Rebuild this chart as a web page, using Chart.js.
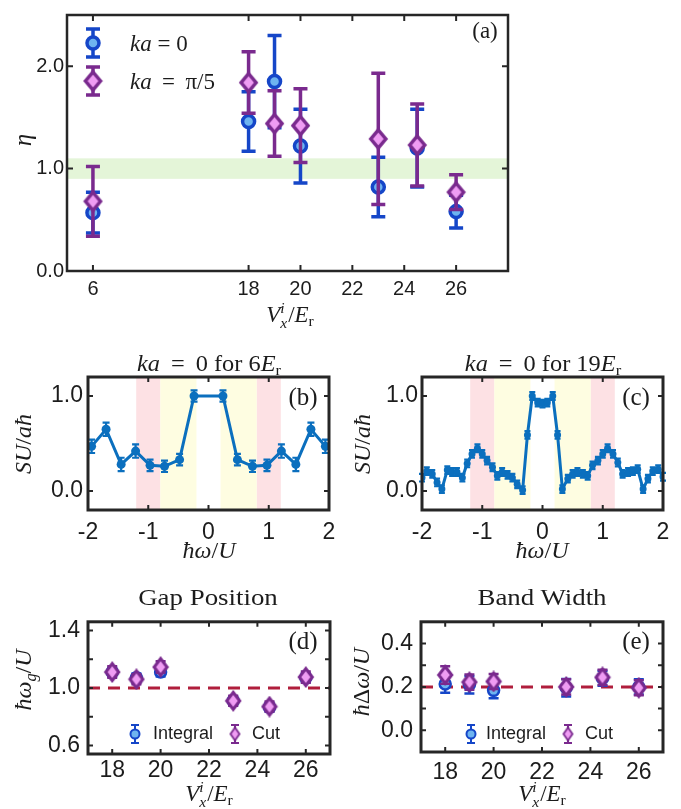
<!DOCTYPE html>
<html>
<head>
<meta charset="utf-8">
<script src="https://cdn.jsdelivr.net/npm/chart.js@4.4.1/dist/chart.umd.min.js"></script>
<style>
html, body { margin: 0; padding: 0; background: #fff; }
#fig { position: relative; width: 681px; height: 809px; overflow: hidden; }
#fig canvas { position: absolute; }
.t { position: absolute; transform: translate(-50%, -50%); font-family: "Liberation Serif", "DejaVu Serif", serif;
     color: #1c1c1c; white-space: nowrap; line-height: 1; z-index: 2; }
.l { transform: translate(0, -50%); }
.r { transform: translate(-50%, -50%) rotate(-90deg); }
.w { transform: translate(-50%, -50%) scaleX(1.12); }
.w2 { transform: translate(-50%, -50%) scaleX(1.06); }
.s { font-family: "Liberation Sans", Arial, sans-serif; }
.sb { font-size: 0.68em; position: relative; top: 0.28em; }
.stk { display: inline-block; font-size: 0.68em; line-height: 0.95; vertical-align: -0.4em; margin-right: 0.06em; }
.stk span { display: block; }
</style>
</head>
<body>
<div id="fig">
  <canvas id="chartA"></canvas>
  <canvas id="chartB"></canvas>
  <canvas id="chartC"></canvas>
  <canvas id="chartD"></canvas>
  <canvas id="chartE"></canvas>

  <!-- panel (a) -->
  <div class="t" style="left:485px;top:30px;font-size:23px">(a)</div>
  <div class="t l" style="left:130px;top:43px;font-size:23px"><i>ka</i> = 0</div>
  <div class="t l" style="left:130px;top:81px;font-size:23px"><i>ka</i>&thinsp; = &thinsp;π/5</div>
  <div class="t r" style="left:22px;top:140px;font-size:25px"><i>η</i></div>
  <div class="t" style="left:290px;top:316px;font-size:23px"><i>V</i><span class="stk"><span><i>i</i></span><span><i>x</i></span></span>/<i>E</i><span class="sb">r</span></div>

  <!-- panels (b), (c) -->
  <div class="t w2" style="left:209px;top:363px;font-size:23px"><i>ka</i>&thinsp; = &thinsp;0 for 6<i>E</i><span class="sb">r</span></div>
  <div class="t w2" style="left:543px;top:363px;font-size:23px"><i>ka</i>&thinsp; = &thinsp;0 for 19<i>E</i><span class="sb">r</span></div>
  <div class="t" style="left:303px;top:396px;font-size:25px">(b)</div>
  <div class="t" style="left:636px;top:396px;font-size:25px">(c)</div>
  <div class="t r" style="left:23px;top:444px;font-size:24px"><i>SU</i>/<i>aħ</i></div>
  <div class="t r" style="left:362px;top:444px;font-size:24px"><i>SU</i>/<i>aħ</i></div>
  <div class="t" style="left:209px;top:550px;font-size:24px"><i>ħω</i>/<i>U</i></div>
  <div class="t" style="left:542px;top:550px;font-size:24px"><i>ħω</i>/<i>U</i></div>

  <!-- panels (d), (e) -->
  <div class="t w" style="left:208px;top:597px;font-size:24px">Gap Position</div>
  <div class="t w" style="left:542px;top:597px;font-size:24px">Band Width</div>
  <div class="t" style="left:303px;top:640px;font-size:25px">(d)</div>
  <div class="t" style="left:636px;top:640px;font-size:25px">(e)</div>
  <div class="t r" style="left:23px;top:680px;font-size:24px"><i>ħω</i><span class="sb"><i>g</i></span>/<i>U</i></div>
  <div class="t r" style="left:361px;top:682px;font-size:24px"><i>ħ</i>Δ<i>ω</i>/<i>U</i></div>
  <div class="t" style="left:209px;top:795px;font-size:23px"><i>V</i><span class="stk"><span><i>i</i></span><span><i>x</i></span></span>/<i>E</i><span class="sb">r</span></div>
  <div class="t" style="left:542px;top:795px;font-size:23px"><i>V</i><span class="stk"><span><i>i</i></span><span><i>x</i></span></span>/<i>E</i><span class="sb">r</span></div>
  <div class="t l s" style="left:153px;top:733px;font-size:18px">Integral</div>
  <div class="t l s" style="left:252px;top:733px;font-size:18px">Cut</div>
  <div class="t l s" style="left:486px;top:733px;font-size:18px">Integral</div>
  <div class="t l s" style="left:585px;top:733px;font-size:18px">Cut</div>
</div>

<script>
// ---- data, panel (a): efficiency eta vs lattice depth
const depthsA = [6, 18, 19, 20, 23, 24.5, 26]
const etaKa0 = [0.57, 1.46, 1.85, 1.22, 0.82, 1.20, 0.58]
const etaKa0Err = [0.20, 0.29, 0.45, 0.36, 0.29, 0.38, 0.16]
const etaKaPi5 = [0.68, 1.84, 1.44, 1.42, 1.29, 1.23, 0.77]
const etaKaPi5Err = [0.34, 0.30, 0.32, 0.36, 0.64, 0.40, 0.17]
const etaBand = [0.9, 1.1]
const xTicksA = [6, 18, 20, 22, 24, 26]
const yTicksA = [0, 1, 2]

// ---- panel (b): spectrum at 6 Er
const omegaB = [-1.94, -1.70, -1.45, -1.21, -0.97, -0.73, -0.48, -0.24, 0.24, 0.48, 0.73, 0.97, 1.21, 1.45, 1.70, 1.94]
const suB = [0.47, 0.65, 0.28, 0.42, 0.27, 0.26, 0.33, 1.00, 1.00, 0.33, 0.26, 0.27, 0.42, 0.28, 0.65, 0.47]
const suBErr = [0.07, 0.07, 0.07, 0.07, 0.06, 0.06, 0.06, 0.06, 0.06, 0.06, 0.06, 0.06, 0.07, 0.07, 0.07, 0.07]

// ---- panel (c): spectrum at 19 Er
const omegaC = [-2.00, -1.92, -1.83, -1.75, -1.67, -1.58, -1.50, -1.42, -1.33, -1.25, -1.17, -1.08, -1.00,
  -0.92, -0.83, -0.75, -0.67, -0.58, -0.50, -0.42, -0.33, -0.25, -0.17, -0.08, 0.00, 0.08, 0.17, 0.25,
  0.33, 0.42, 0.50, 0.58, 0.67, 0.75, 0.83, 0.92, 1.00, 1.08, 1.17, 1.25, 1.33, 1.42, 1.50, 1.58, 1.67,
  1.75, 1.83, 1.92, 2.00]
const suC = [0.14, 0.21, 0.18, 0.09, 0.02, 0.22, 0.20, 0.20, 0.14, 0.29, 0.39, 0.45, 0.39,
  0.32, 0.25, 0.16, 0.20, 0.17, 0.14, 0.07, 0.01, 0.59, 1.00, 0.93, 0.92, 0.93, 1.00, 0.59,
  0.02, 0.13, 0.18, 0.20, 0.18, 0.16, 0.27, 0.32, 0.39, 0.45, 0.39, 0.30, 0.18, 0.20, 0.21, 0.23, 0.02,
  0.13, 0.21, 0.23, 0.15]
const suCErr = 0.04

// shaded windows in (b) and (c)
const pinkBands = [[-1.2, -0.8], [0.8, 1.2]]
const yellowBands = [[-0.8, -0.2], [0.2, 0.8]]
const omegaTicks = [-2, -1, 0, 1, 2]
const suTicks = [0, 1]

// ---- panels (d), (e)
const depthsDE = [18, 19, 20, 23, 24.5, 26]
const gapIntegral = [1.11, 1.07, 1.11, 0.91, 0.865, 1.07]
const gapIntegralErr = [0.03, 0.03, 0.03, 0.03, 0.03, 0.03]
const gapCut = [1.11, 1.06, 1.145, 0.91, 0.87, 1.075]
const gapCutErr = [0.04, 0.035, 0.04, 0.035, 0.035, 0.04]
const gapRef = 1.0
const widthIntegral = [0.213, 0.21, 0.184, 0.196, 0.24, 0.20]
const widthIntegralErr = [0.04, 0.04, 0.036, 0.04, 0.035, 0.035]
const widthCut = [0.255, 0.222, 0.225, 0.20, 0.244, 0.196]
const widthCutErr = [0.04, 0.035, 0.035, 0.035, 0.035, 0.035]
const widthRef = 0.2
const xTicksDE = [18, 20, 22, 24, 26]
const gapTicks = [0.6, 0.8, 1.0, 1.2, 1.4]
const widthTicks = [0, 0.1, 0.2, 0.3, 0.4]

// colours
const blueEdge = '#1546c8'
const blueFill = '#6eb4f0'
const purpleEdge = '#7a2a8e'
const purpleFill = '#ef9cf3'
const lineBlue = '#0b6fbe'
const frameColor = '#262626'

// axis (a) is broken: everything below 18 is moved right by 6
const axisPosA = v => (v < 18 ? v + 6 : v)

function diamond(hw, hh, fill, stroke, lw) {
  const c = document.createElement('canvas')
  c.width = Math.ceil(2 * hw + lw + 2)
  c.height = Math.ceil(2 * hh + lw + 2)
  const g = c.getContext('2d')
  const cx = c.width / 2, cy = c.height / 2
  g.beginPath()
  g.moveTo(cx, cy - hh); g.lineTo(cx + hw, cy); g.lineTo(cx, cy + hh); g.lineTo(cx - hw, cy)
  g.closePath()
  g.fillStyle = fill; g.fill()
  g.lineWidth = lw; g.strokeStyle = stroke; g.stroke()
  return c
}
const bigDiamond = diamond(7.5, 9, purpleFill, purpleEdge, 3.5)
const smallDiamond = diamond(6.5, 8.5, purpleFill, purpleEdge, 3)
const legendDiamond = diamond(4.5, 6.5, purpleFill, purpleEdge, 1.8)

function errBar(ctx, x, y0, y1, half, color, width) {
  ctx.strokeStyle = color
  ctx.lineWidth = width
  ctx.beginPath()
  ctx.moveTo(x, y0); ctx.lineTo(x, y1)
  ctx.moveTo(x - half, y0); ctx.lineTo(x + half, y0)
  ctx.moveTo(x - half, y1); ctx.lineTo(x + half, y1)
  ctx.stroke()
}

const panelPlugin = {
  id: 'panel',
  beforeDatasetsDraw(chart, args, opts) {
    const { ctx, chartArea: a, scales: { x, y } } = chart
    ctx.save()
    for (const b of opts.xBands || []) {
      const x0 = x.getPixelForValue(b.from), x1 = x.getPixelForValue(b.to)
      ctx.fillStyle = b.color
      ctx.fillRect(x0, a.top, x1 - x0, a.bottom - a.top)
    }
    for (const b of opts.yBands || []) {
      const y0 = y.getPixelForValue(b.to), y1 = y.getPixelForValue(b.from)
      ctx.fillStyle = b.color
      ctx.fillRect(a.left, y0, a.right - a.left, y1 - y0)
    }
    ctx.restore()
  },
  beforeDatasetDraw(chart, args) {
    const ds = chart.data.datasets[args.index]
    if (!ds.errors) return
    const { ctx, scales: { y } } = chart
    ctx.save()
    args.meta.data.forEach((pt, i) => {
      const v = ds.data[i].y
      const e = Array.isArray(ds.errors) ? ds.errors[i] : ds.errors
      errBar(ctx, pt.x, y.getPixelForValue(v + e), y.getPixelForValue(v - e), ds.capHalf, ds.errColor, ds.errWidth)
    })
    ctx.restore()
  },
  afterDatasetsDraw(chart, args, opts) {
    const { ctx, chartArea: a, scales: { x, y } } = chart
    ctx.save()
    // legend marks
    for (const m of opts.legend || []) {
      const lx = m.x - opts.box.x, ly = m.y - opts.box.y
      errBar(ctx, lx, ly - m.err, ly + m.err, m.capHalf, m.edge, m.lw)
      if (m.kind === 'circle') {
        ctx.beginPath()
        ctx.arc(lx, ly, m.r, 0, Math.PI * 2)
        ctx.fillStyle = m.fill; ctx.fill()
        ctx.lineWidth = m.lw; ctx.strokeStyle = m.edge; ctx.stroke()
      } else {
        ctx.drawImage(m.img, lx - m.img.width / 2, ly - m.img.height / 2)
      }
    }
    // box and inward ticks on all four sides
    ctx.strokeStyle = frameColor
    ctx.lineWidth = opts.lw
    ctx.strokeRect(a.left, a.top, a.right - a.left, a.bottom - a.top)
    const t = opts.tick
    ctx.lineWidth = 2
    ctx.beginPath()
    x.ticks.forEach(tk => {
      const px = x.getPixelForValue(tk.value)
      ctx.moveTo(px, a.bottom); ctx.lineTo(px, a.bottom - t)
      ctx.moveTo(px, a.top); ctx.lineTo(px, a.top + t)
    })
    y.ticks.forEach(tk => {
      const py = y.getPixelForValue(tk.value)
      ctx.moveTo(a.left, py); ctx.lineTo(a.left + t, py)
      ctx.moveTo(a.right, py); ctx.lineTo(a.right - t, py)
    })
    ctx.stroke()
    ctx.restore()
  }
}

function axis(cfg, fit) {
  return {
    type: 'linear',
    min: cfg.min,
    max: cfg.max,
    grid: { display: false, drawTicks: false },
    border: { display: false },
    afterBuildTicks: s => { s.ticks = cfg.ticks.map(v => ({ value: v })) },
    afterFit: fit,
    ticks: {
      autoSkip: false,
      maxRotation: 0,
      padding: cfg.pad,
      color: '#1c1c1c',
      font: { family: 'Liberation Sans', size: cfg.size },
      callback: (v, i) => cfg.labels[i]
    }
  }
}

function makeChart(id, box, area, xCfg, yCfg, datasets, panelOpts) {
  const canvas = document.getElementById(id)
  canvas.width = box.w
  canvas.height = box.h
  canvas.style.left = box.x + 'px'
  canvas.style.top = box.y + 'px'
  return new Chart(canvas, {
    type: 'scatter',
    data: { datasets },
    plugins: [panelPlugin],
    options: {
      responsive: false,
      animation: false,
      devicePixelRatio: 1,
      layout: { padding: { left: 0, top: area.t - box.y, right: box.x + box.w - area.r, bottom: 0 } },
      plugins: {
        legend: { display: false },
        tooltip: { enabled: false },
        panel: Object.assign({ box }, panelOpts)
      },
      scales: {
        x: axis(xCfg, s => { s.height = box.y + box.h - area.b }),
        y: axis(yCfg, s => { s.width = area.l - box.x })
      }
    }
  })
}

const pts = (xs, ys) => xs.map((x, i) => ({ x, y: ys[i] }))
const fixed = (v) => v.toFixed(1)

function circleSet(data, errors, r, lw, cap, order) {
  return {
    data, errors, order,
    pointStyle: 'circle', pointRadius: r, pointBorderWidth: lw,
    pointBorderColor: blueEdge, pointBackgroundColor: blueFill,
    errColor: blueEdge, errWidth: lw, capHalf: cap
  }
}
function diamondSet(data, errors, img, lw, cap, order) {
  return {
    data, errors, order,
    pointStyle: img, pointRadius: 8,
    errColor: purpleEdge, errWidth: lw, capHalf: cap
  }
}
function spectrumSet(data, errors, r, lw, cap) {
  return {
    data, errors, showLine: true,
    borderColor: lineBlue, borderWidth: lw, tension: 0,
    pointRadius: r, pointBorderWidth: 0, pointBackgroundColor: lineBlue,
    errColor: lineBlue, errWidth: 2.2, capHalf: cap
  }
}
function refLine(level) {
  return {
    data: [{ x: 17, y: level }, { x: 27, y: level }], showLine: true, order: 5,
    borderColor: '#b01e3c', borderWidth: 3, borderDash: [12, 8], pointRadius: 0
  }
}

// (a)
makeChart('chartA', { x: 0, y: 0, w: 520, h: 300 }, { l: 67, r: 508, t: 10, b: 271 },
  { min: 11, max: 28, ticks: xTicksA.map(axisPosA), labels: xTicksA.map(String), pad: 6, size: 20 },
  { min: 0, max: 2.5, ticks: yTicksA, labels: yTicksA.map(fixed), pad: 3, size: 20 },
  [
    circleSet(pts(depthsA.map(axisPosA), etaKa0), etaKa0Err, 6, 3.5, 7, 2),
    diamondSet(pts(depthsA.map(axisPosA), etaKaPi5), etaKaPi5Err, bigDiamond, 3.5, 7, 1)
  ],
  {
    lw: 2.5, tick: 6,
    yBands: [{ from: etaBand[0], to: etaBand[1], color: '#e4f5d8' }],
    legend: [
      { kind: 'circle', x: 93, y: 43, r: 6, err: 14, capHalf: 7, lw: 3.5, edge: blueEdge, fill: blueFill },
      { kind: 'diamond', x: 93, y: 81, img: bigDiamond, err: 14, capHalf: 7, lw: 3.5, edge: purpleEdge }
    ]
  })

const bandList = [
  ...pinkBands.map(b => ({ from: b[0], to: b[1], color: '#fde1e4' })),
  ...yellowBands.map(b => ({ from: b[0], to: b[1], color: '#fefde1' }))
]

// (b)
makeChart('chartB', { x: 0, y: 357, w: 345, h: 190 }, { l: 88, r: 329, t: 377, b: 510 },
  { min: -2, max: 2, ticks: omegaTicks, labels: omegaTicks.map(String), pad: 9, size: 23 },
  { min: -0.2, max: 1.2, ticks: suTicks, labels: suTicks.map(fixed), pad: 5, size: 23 },
  [spectrumSet(pts(omegaB, suB), suBErr, 4.5, 3, 3.5)],
  { lw: 3, tick: 5, xBands: bandList })

// (c)
makeChart('chartC', { x: 340, y: 357, w: 341, h: 190 }, { l: 422, r: 663, t: 377, b: 510 },
  { min: -2, max: 2, ticks: omegaTicks, labels: omegaTicks.map(String), pad: 9, size: 23 },
  { min: -0.2, max: 1.2, ticks: suTicks, labels: suTicks.map(fixed), pad: 4, size: 23 },
  [spectrumSet(pts(omegaC, suC), suCErr, 3.5, 3, 3)],
  { lw: 3, tick: 5, xBands: bandList })

const smallLegend = (bx, px) => [
  { kind: 'circle', x: bx, y: 734, r: 4.5, err: 9, capHalf: 4, lw: 2, edge: blueEdge, fill: blueFill },
  { kind: 'diamond', x: px, y: 734, img: legendDiamond, err: 9, capHalf: 4, lw: 2, edge: purpleEdge }
]

// (d)
makeChart('chartD', { x: 0, y: 600, w: 345, h: 190 }, { l: 88, r: 330, t: 617, b: 754 },
  { min: 17, max: 27, ticks: xTicksDE, labels: xTicksDE.map(String), pad: 3, size: 23 },
  { min: 0.54, max: 1.46, ticks: gapTicks, labels: gapTicks.map((v, i) => (i % 2 ? '' : fixed(v))), pad: 8, size: 23 },
  [
    refLine(gapRef),
    circleSet(pts(depthsDE, gapIntegral), gapIntegralErr, 5.5, 2.5, 5, 2),
    diamondSet(pts(depthsDE, gapCut), gapCutErr, smallDiamond, 2.5, 5, 1)
  ],
  { lw: 3, tick: 5, legend: smallLegend(135, 235) })

// (e)
makeChart('chartE', { x: 340, y: 600, w: 341, h: 190 }, { l: 421, r: 663, t: 617, b: 752 },
  { min: 17, max: 27, ticks: xTicksDE, labels: xTicksDE.map(String), pad: 7, size: 23 },
  { min: -0.1, max: 0.5, ticks: widthTicks, labels: widthTicks.map((v, i) => (i % 2 ? '' : fixed(v))), pad: 8, size: 23 },
  [
    refLine(widthRef),
    circleSet(pts(depthsDE, widthIntegral), widthIntegralErr, 5.5, 2.5, 5, 2),
    diamondSet(pts(depthsDE, widthCut), widthCutErr, smallDiamond, 2.5, 5, 1)
  ],
  { lw: 3, tick: 5, legend: smallLegend(471, 568) })
</script>
</body>
</html>
